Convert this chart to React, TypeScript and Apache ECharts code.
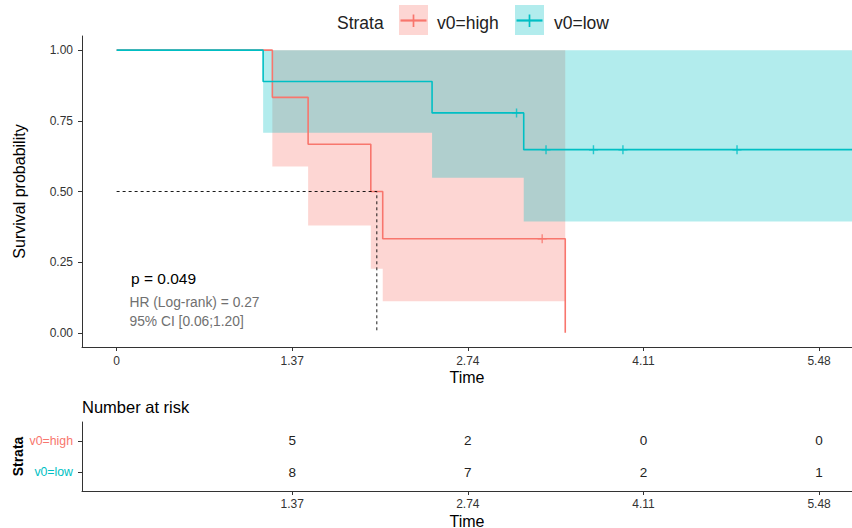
import React, { useEffect, useRef } from "react";
import * as echarts from "echarts";

// ---- data ----
const TIME_TICKS = [0, 1.37, 2.74, 4.11, 5.48];
const RISK_TIME_TICKS = [1.37, 2.74, 4.11, 5.48];
const SURV_TICKS = [0, 0.25, 0.5, 0.75, 1];
const STRATA = ["v0=high", "v0=low"];

const highTimes = [0, 1.215, 1.494, 1.983, 2.076, 3.5];
const highSurv = [1, 0.833, 0.667, 0.5, 0.333, 0];
const highCensorTimes = [3.32];
const highCensorSurv = [0.333];
const highBandTimes = [1.215, 1.494, 1.983, 2.076, 3.5];
const highBandLower = [0.588, 0.38, 0.227, 0.112];
const highBandUpper = [1, 1, 1, 1];

const lowTimes = [0, 1.143, 2.461, 3.176, 5.74];
const lowSurv = [1, 0.889, 0.778, 0.648, 0.648];
const lowCensorTimes = [3.12, 3.35, 3.72, 3.95, 4.84];
const lowCensorSurv = [0.778, 0.648, 0.648, 0.648, 0.648];
const lowBandTimes = [1.143, 2.461, 3.176, 5.74];
const lowBandLower = [0.708, 0.549, 0.394];
const lowBandUpper = [1, 1, 1];

const medianTime = 2.03;
const medianSurv = 0.5;

const riskHigh = [5, 2, 0, 0];
const riskLow = [8, 7, 2, 1];

const RED = "#F8766D";
const CYAN = "#00BFC4";
const FONT = '"Liberation Sans", Arial, sans-serif';
const X_MIN = -0.27;
const X_MAX = 5.737;

const PLUS =
  "path://M4.2,0H5.8V4.2H10V5.8H5.8V10H4.2V5.8H0V4.2H4.2Z";

function bandSeries(times: number[], lower: number[], upper: number[], color: string) {
  return {
    type: "custom",
    xAxisIndex: 0,
    yAxisIndex: 0,
    silent: true,
    data: times.map((t, i) => [t, lower[Math.min(i, lower.length - 1)]]),
    encode: { x: 0, y: 1 },
    renderItem: (params: any, api: any) => {
      if (params.dataIndex !== 0) return null;
      const pts: number[][] = [];
      for (let i = 0; i < times.length - 1; i++) {
        pts.push(api.coord([times[i], upper[i]]));
        pts.push(api.coord([times[i + 1], upper[i]]));
      }
      for (let i = times.length - 2; i >= 0; i--) {
        pts.push(api.coord([times[i + 1], lower[i]]));
        pts.push(api.coord([times[i], lower[i]]));
      }
      return {
        type: "polygon",
        shape: { points: pts },
        style: { fill: color, opacity: 0.3 },
      };
    },
  };
}

function riskSeries(values: number[], level: number) {
  return {
    type: "custom",
    xAxisIndex: 1,
    yAxisIndex: 1,
    silent: true,
    data: RISK_TIME_TICKS.map((t, i) => [t, level, values[i]]),
    encode: { x: 0, y: 1 },
    renderItem: (params: any, api: any) => {
      const p = api.coord([api.value(0), api.value(1)]);
      return {
        type: "text",
        x: p[0],
        y: p[1],
        style: {
          text: String(api.value(2)),
          textAlign: "center",
          textVerticalAlign: "middle",
          fill: "#222",
          font: `13.5px ${FONT}`,
        },
      };
    },
  };
}

export default function App() {
  const ref = useRef<HTMLDivElement>(null);
  useEffect(() => {
    if (!ref.current) return;
    const chart = echarts.init(ref.current, null, { renderer: "svg" });
    const axisLine = { show: true, onZero: false, lineStyle: { color: "#333", width: 1 } };
    const axisTick = (vals: number[]) => ({
      show: true,
      length: 4,
      customValues: vals,
      lineStyle: { color: "#333", width: 1 },
    });
    const option: any = {
      animation: false,
      backgroundColor: "#fff",
      grid: [
        { left: 82, top: 36, width: 770, height: 311, outerBoundsMode: "none", containLabel: false },
        { left: 82, top: 422, width: 770, height: 69, outerBoundsMode: "none", containLabel: false },
      ],
      xAxis: [
        {
          type: "value",
          gridIndex: 0,
          min: X_MIN,
          max: X_MAX,
          axisLine,
          axisTick: axisTick(TIME_TICKS),
          splitLine: { show: false },
          axisLabel: {
            customValues: TIME_TICKS,
            formatter: (v: number) => (v === 0 ? "0" : v.toFixed(2)),
            color: "#333",
            fontSize: 12,
            fontFamily: FONT,
            margin: 8,
          },
          name: "Time",
          nameLocation: "middle",
          nameGap: 22,
          nameMoveOverlap: false,
          nameTextStyle: { color: "#000", fontSize: 16, fontFamily: FONT },
        },
        {
          type: "value",
          gridIndex: 1,
          min: X_MIN,
          max: X_MAX,
          axisLine,
          axisTick: axisTick(RISK_TIME_TICKS),
          splitLine: { show: false },
          axisLabel: {
            customValues: RISK_TIME_TICKS,
            formatter: (v: number) => v.toFixed(2),
            color: "#333",
            fontSize: 12,
            fontFamily: FONT,
            margin: 7,
          },
          name: "Time",
          nameLocation: "middle",
          nameGap: 22,
          nameMoveOverlap: false,
          nameTextStyle: { color: "#000", fontSize: 16, fontFamily: FONT },
        },
      ],
      yAxis: [
        {
          type: "value",
          gridIndex: 0,
          min: -0.05,
          max: 1.05,
          axisLine,
          axisTick: axisTick(SURV_TICKS),
          splitLine: { show: false },
          axisLabel: {
            customValues: SURV_TICKS,
            formatter: (v: number) => v.toFixed(2),
            color: "#333",
            fontSize: 12,
            fontFamily: FONT,
            margin: 9,
          },
          name: "Survival probability",
          nameLocation: "middle",
          nameGap: 55,
          nameMoveOverlap: false,
          nameTextStyle: { color: "#000", fontSize: 16, fontFamily: FONT },
        },
        {
          type: "value",
          gridIndex: 1,
          min: 0.4,
          max: 2.6,
          axisLine,
          axisTick: axisTick([1, 2]),
          splitLine: { show: false },
          axisLabel: {
            customValues: [1, 2],
            formatter: (v: number) => (v === 2 ? `{h|${STRATA[0]}}` : `{l|${STRATA[1]}}`),
            margin: 9,
            rich: {
              h: { color: RED, fontSize: 12.3, fontFamily: FONT },
              l: { color: CYAN, fontSize: 12.3, fontFamily: FONT },
            },
          },
          name: "Strata",
          nameLocation: "middle",
          nameGap: 57,
          nameMoveOverlap: false,
          nameTextStyle: { color: "#000", fontSize: 14, fontWeight: "bold", fontFamily: FONT },
        },
      ],
      series: [
        {
          type: "line",
          xAxisIndex: 0,
          yAxisIndex: 0,
          step: "end",
          symbol: "none",
          silent: true,
          lineStyle: { color: RED, width: 1.6 },
          data: highTimes.map((t, i) => [t, highSurv[i]]),
        },
        {
          type: "line",
          xAxisIndex: 0,
          yAxisIndex: 0,
          step: "end",
          symbol: "none",
          silent: true,
          lineStyle: { color: CYAN, width: 1.6 },
          data: lowTimes.map((t, i) => [t, lowSurv[i]]),
        },
        {
          type: "scatter",
          xAxisIndex: 0,
          yAxisIndex: 0,
          symbol: PLUS,
          symbolSize: 9,
          silent: true,
          itemStyle: { color: RED },
          data: highCensorTimes.map((t, i) => [t, highCensorSurv[i]]),
        },
        {
          type: "scatter",
          xAxisIndex: 0,
          yAxisIndex: 0,
          symbol: PLUS,
          symbolSize: 9,
          silent: true,
          itemStyle: { color: CYAN },
          data: lowCensorTimes.map((t, i) => [t, lowCensorSurv[i]]),
        },
        bandSeries(highBandTimes, highBandLower, highBandUpper, RED),
        bandSeries(lowBandTimes, lowBandLower, lowBandUpper, CYAN),
        {
          type: "line",
          xAxisIndex: 0,
          yAxisIndex: 0,
          symbol: "none",
          silent: true,
          lineStyle: { color: "#000", width: 0.9, type: [3, 3] },
          data: [
            [0, medianSurv],
            [medianTime, medianSurv],
            [medianTime, 0],
          ],
        },
        riskSeries(riskHigh, 2),
        riskSeries(riskLow, 1),
      ],
      graphic: [
        {
          type: "text",
          x: 131,
          y: 278,
          style: {
            text: "p = 0.049",
            fill: "#000",
            font: `15.5px ${FONT}`,
            textAlign: "left",
            textVerticalAlign: "middle",
          },
        },
        {
          type: "text",
          x: 129.5,
          y: 302,
          style: {
            text: "HR (Log-rank) = 0.27",
            fill: "#707070",
            font: `13.8px ${FONT}`,
            textAlign: "left",
            textVerticalAlign: "middle",
          },
        },
        {
          type: "text",
          x: 129.5,
          y: 321,
          style: {
            text: "95% CI [0.06;1.20]",
            fill: "#707070",
            font: `13.8px ${FONT}`,
            textAlign: "left",
            textVerticalAlign: "middle",
          },
        },
        {
          type: "text",
          x: 82,
          y: 407,
          style: {
            text: "Number at risk",
            fill: "#000",
            font: `16.5px ${FONT}`,
            textAlign: "left",
            textVerticalAlign: "middle",
          },
        },
        // legend
        {
          type: "text",
          x: 337,
          y: 23,
          style: {
            text: "Strata",
            fill: "#222",
            font: `17.5px ${FONT}`,
            textAlign: "left",
            textVerticalAlign: "middle",
          },
        },
        { type: "rect", shape: { x: 399, y: 5, width: 29, height: 30 }, style: { fill: RED, opacity: 0.3 } },
        { type: "line", shape: { x1: 400.5, y1: 20.5, x2: 426.5, y2: 20.5 }, style: { stroke: RED, lineWidth: 2.2 } },
        { type: "line", shape: { x1: 413.5, y1: 14.5, x2: 413.5, y2: 27 }, style: { stroke: RED, lineWidth: 1.7 } },
        {
          type: "text",
          x: 437,
          y: 23,
          style: {
            text: STRATA[0],
            fill: "#222",
            font: `17.5px ${FONT}`,
            textAlign: "left",
            textVerticalAlign: "middle",
          },
        },
        { type: "rect", shape: { x: 515, y: 5, width: 29, height: 30 }, style: { fill: CYAN, opacity: 0.3 } },
        { type: "line", shape: { x1: 516.5, y1: 20.5, x2: 542.5, y2: 20.5 }, style: { stroke: CYAN, lineWidth: 2.2 } },
        { type: "line", shape: { x1: 529.5, y1: 14.5, x2: 529.5, y2: 27 }, style: { stroke: CYAN, lineWidth: 1.7 } },
        {
          type: "text",
          x: 554,
          y: 23,
          style: {
            text: STRATA[1],
            fill: "#222",
            font: `17.5px ${FONT}`,
            textAlign: "left",
            textVerticalAlign: "middle",
          },
        },
      ],
    };
    chart.setOption(option);
    return () => chart.dispose();
  }, []);
  return (
    <div
      ref={ref}
      style={{ position: "absolute", left: 0, top: 0, width: 852, height: 528, background: "#fff" }}
    />
  );
}
